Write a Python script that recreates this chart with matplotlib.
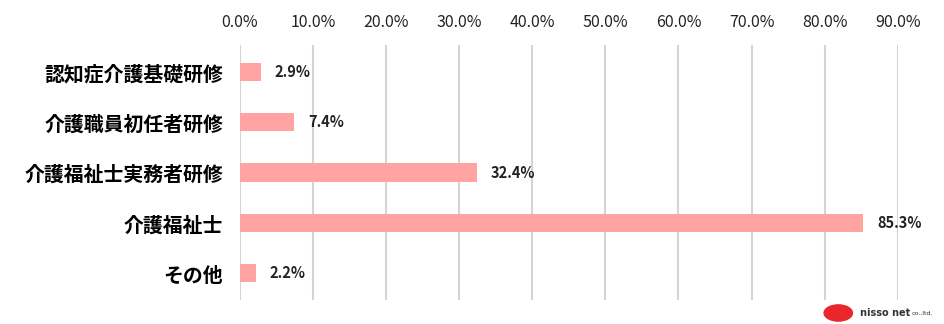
import matplotlib.pyplot as plt
from matplotlib.ticker import FuncFormatter
from matplotlib.patches import Ellipse

plt.rcParams['font.family'] = ['Noto Sans CJK JP', 'DejaVu Sans']

# 資格の種類
categories = ['認知症介護基礎研修', '介護職員初任者研修', '介護福祉士実務者研修', '介護福祉士', 'その他']
# 割合(%)
values = [2.9, 7.4, 32.4, 85.3, 2.2]
ticks = [0, 10, 20, 30, 40, 50, 60, 70, 80, 90]

fig = plt.figure(figsize=(9.44, 3.24), dpi=100)
ax = fig.add_axes([0.254, 0.074, 0.697, 0.787])

ax.barh(categories, values, height=0.36, color='#ffa3a3', zorder=2)
ax.set_xlim(0, 90)
ax.set_ylim(len(categories) - 0.46, -0.54)
ax.set_xticks(ticks)
ax.xaxis.set_major_formatter(FuncFormatter(lambda v, p: f'{v:.1f}%'))
ax.xaxis.tick_top()
ax.tick_params(axis='x', length=0, pad=10, labelsize=11.5, labelcolor='#222222')
ax.tick_params(axis='y', length=0, pad=12, labelsize=14.3)
for lab in ax.get_yticklabels():
    lab.set_fontweight('bold')
ax.grid(axis='x', color='#d4d4d4', linewidth=1.5, zorder=0)
for s in ax.spines.values():
    s.set_visible(False)

# 値ラベル
for i, v in enumerate(values):
    ax.annotate(f'{v}%', (v, i), xytext=(10, 0), textcoords='offset points',
                va='center', ha='left', fontsize=10.5, fontweight='bold',
                color='#222222')

# ロゴ
fig.patches.append(Ellipse((0.888, 0.034), 0.03, 0.05, color='#e8262b',
                           transform=fig.transFigure, figure=fig))
fig.text(0.911, 0.034, 'nisso net', fontsize=7, fontweight='bold',
         color='#333333', va='center', family=['DejaVu Sans'])
fig.text(0.966, 0.034, 'co.,ltd.', fontsize=4.5, color='#333333', va='center',
         family=['DejaVu Sans'])

fig.savefig('out.png', dpi=100, facecolor='white')
